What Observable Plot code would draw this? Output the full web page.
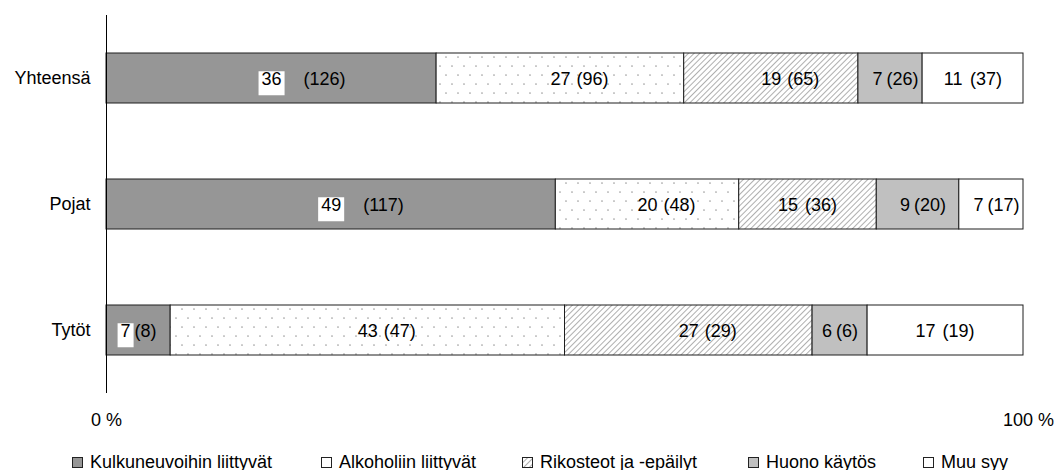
<!DOCTYPE html>
<html>
<head>
<meta charset="utf-8">
<script src="https://cdn.jsdelivr.net/npm/d3@7"></script>
<script src="https://cdn.jsdelivr.net/npm/@observablehq/plot@0.6"></script>
<style>
  html, body { margin: 0; padding: 0; background: #fff; }
  #wrap { position: relative; width: 1054px; height: 470px; font-family: "Liberation Sans", Arial, sans-serif; }
  #legend { position: absolute; left: 0; top: 450px; width: 1054px; height: 24px; font-size: 18px; color: #000; }
  .item { position: absolute; top: 0; height: 24px; line-height: 24px; white-space: nowrap; }
  .item svg { position: absolute; left: 0; top: 7px; }
  .item span { position: absolute; left: 18px; top: 0; }
</style>
</head>
<body>
<div id="wrap"><div id="chart"></div><div id="legend"></div></div>
<script>
// ---- data ----
const groups = ["Yhteensä", "Pojat", "Tytöt"];
const categories = ["Kulkuneuvoihin liittyvät", "Alkoholiin liittyvät", "Rikosteot ja -epäilyt", "Huono käytös", "Muu syy"];
const pctYhteensa = [36, 27, 19, 7, 11];
const nYhteensa = [126, 96, 65, 26, 37];
const pctPojat = [49, 20, 15, 9, 7];
const nPojat = [117, 48, 36, 20, 17];
const pctTytot = [7, 43, 27, 6, 17];
const nTytot = [8, 47, 29, 6, 19];
const xTicks = [0, 100];
const xTickLabels = ["0 %", "100 %"];
const catFills = ["#969696", "url(#dots)", "url(#hatch)", "#c0c0c0", "#ffffff"];
const legendLeft = [72, 321, 522, 748, 923];

// ---- build rows ----
const series = [[pctYhteensa, nYhteensa], [pctPojat, nPojat], [pctTytot, nTytot]];
const rows = [];
series.forEach(([pcts, ns], gi) => {
  let acc = 0;
  pcts.forEach((p, ci) => {
    rows.push({group: groups[gi], cat: categories[ci], ci, pct: p, n: ns[ci], x1: acc, x2: acc + p, mid: acc + p / 2});
    acc += p;
  });
});
const wide = rows.filter(d => d.pct >= 19);
const narrow1 = rows.filter(d => d.pct < 19 && d.pct < 10);
const narrow2 = rows.filter(d => d.pct < 19 && d.pct >= 10);
const isBoxed = d => d.ci === 0;
const BOXED = "#000001"; // marker colour for labels that get a white box

const fs = 18;
const ldy = 1;
const chart = Plot.plot({
  width: 1054,
  height: 440,
  marginTop: 15,
  marginBottom: 47,
  marginLeft: 106,
  marginRight: 31,
  x: {domain: [0, 100]},
  y: {domain: groups, paddingInner: 0.6, paddingOuter: 0.3},
  color: {domain: categories, range: catFills},
  style: {fontFamily: '"Liberation Sans", Arial, sans-serif', fontSize: "18px", color: "#000", background: "#fff", overflow: "visible"},
  marks: [
    Plot.barX(rows, {x1: "x1", x2: "x2", y: "group", fill: "cat", stroke: "#1e1e1e", strokeWidth: 1}),
    Plot.ruleX([0], {stroke: "#000", strokeWidth: 1}),
    Plot.axisY({tickSize: 0, tickPadding: 16, fontSize: fs, label: null}),
    Plot.axisX({ticks: [xTicks[0]], tickFormat: () => xTickLabels[0], tickSize: 0, tickPadding: 20, fontSize: fs, label: null}),
    Plot.axisX({ticks: [xTicks[1]], tickFormat: () => xTickLabels[1], tickSize: 0, tickPadding: 20, fontSize: fs, label: null, dx: 5}),
    // wide segments: percent centered, count to the right
    Plot.text(wide.filter(isBoxed), {x: "mid", y: "group", text: d => String(d.pct), fontSize: fs, dy: ldy, fill: BOXED}),
    Plot.text(wide.filter(d => !isBoxed(d)), {x: "mid", y: "group", text: d => String(d.pct), fontSize: fs, dy: ldy, fill: "#000"}),
    Plot.text(wide.filter(isBoxed), {x: "mid", y: "group", text: d => `(${d.n})`, textAnchor: "start", dx: 32, dy: ldy, fontSize: fs, fill: "#000"}),
    Plot.text(wide.filter(d => !isBoxed(d)), {x: "mid", y: "group", text: d => `(${d.n})`, textAnchor: "start", dx: 16, dy: ldy, fontSize: fs, fill: "#000"}),
    // narrow segments: pair centered
    Plot.text(narrow1.filter(isBoxed), {x: "mid", y: "group", text: d => String(d.pct), dx: -13, dy: ldy, fontSize: fs, fill: BOXED}),
    Plot.text(narrow1.filter(d => !isBoxed(d)), {x: "mid", y: "group", text: d => String(d.pct), dx: -13, dy: ldy, fontSize: fs, fill: "#000"}),
    Plot.text(narrow1, {x: "mid", y: "group", text: d => `(${d.n})`, textAnchor: "start", dx: -4, dy: ldy, fontSize: fs, fill: "#000"}),
    Plot.text(narrow2, {x: "mid", y: "group", text: d => String(d.pct), dx: -20, dy: ldy, fontSize: fs, fill: "#000"}),
    Plot.text(narrow2, {x: "mid", y: "group", text: d => `(${d.n})`, textAnchor: "start", dx: -3, dy: ldy, fontSize: fs, fill: "#000"})
  ]
});

document.getElementById("chart").appendChild(chart);

// patterns
const defs = d3.select(chart).insert("defs", ":first-child");
const dots = defs.append("pattern").attr("id", "dots").attr("patternUnits", "userSpaceOnUse").attr("width", 12).attr("height", 18);
dots.append("rect").attr("width", 12).attr("height", 18).attr("fill", "#fff");
dots.append("circle").attr("cx", 2).attr("cy", 3).attr("r", 0.85).attr("fill", "#a0a0a0");
dots.append("circle").attr("cx", 8).attr("cy", 12).attr("r", 0.85).attr("fill", "#a0a0a0");
const hatch = defs.append("pattern").attr("id", "hatch").attr("patternUnits", "userSpaceOnUse").attr("width", 4).attr("height", 4).attr("patternTransform", "rotate(45)");
hatch.append("rect").attr("width", 4).attr("height", 4).attr("fill", "#fff");
hatch.append("line").attr("x1", 0).attr("y1", 0).attr("x2", 0).attr("y2", 4).attr("stroke", "#8c8c8c").attr("stroke-width", 1.4);

// white boxes behind the first-category percentages
const svgNS = "http://www.w3.org/2000/svg";
Array.from(chart.querySelectorAll("text")).forEach(t => {
  let el = t, marked = false;
  while (el && el !== chart) {
    const f = el.getAttribute && el.getAttribute("fill");
    if (f && f.toLowerCase() === BOXED) { marked = true; break; }
    el = el.parentNode;
  }
  if (!marked) return;
  const b = t.getBBox();
  const r = document.createElementNS(svgNS, "rect");
  r.setAttribute("x", b.x - 3);
  r.setAttribute("y", b.y + 2);
  r.setAttribute("width", b.width + 6);
  r.setAttribute("height", b.height + 4);
  r.setAttribute("fill", "#fff");
  const tr = t.getAttribute("transform");
  if (tr) r.setAttribute("transform", tr);
  t.parentNode.insertBefore(r, t);
  t.setAttribute("fill", "#000");
});
Array.from(chart.querySelectorAll("g")).forEach(g => {
  const f = g.getAttribute("fill");
  if (f && f.toLowerCase() === BOXED) g.setAttribute("fill", "#000");
});

// legend
const legend = d3.select("#legend");
categories.forEach((c, i) => {
  const item = legend.append("div").attr("class", "item").style("left", legendLeft[i] + "px");
  const s = item.append("svg").attr("width", 11).attr("height", 11);
  s.append("rect").attr("x", 0.5).attr("y", 0.5).attr("width", 10).attr("height", 10)
    .attr("fill", i === 1 ? "#fff" : catFills[i]).attr("stroke", "#222").attr("stroke-width", 1);
  item.append("span").text(c);
});
</script>
</body>
</html>
